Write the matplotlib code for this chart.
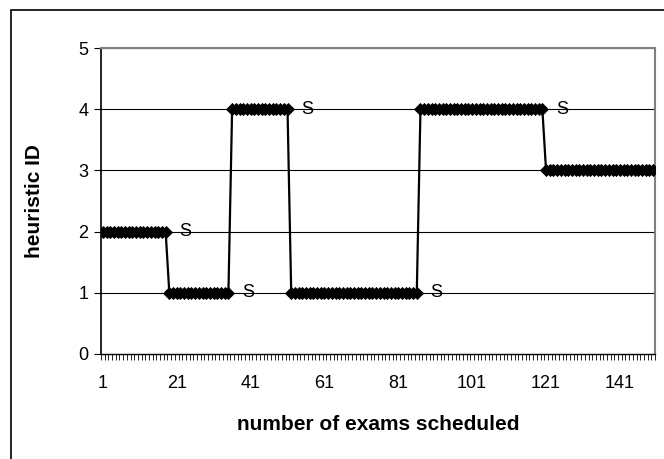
import numpy as np
import matplotlib
matplotlib.use('Agg')
from matplotlib import pyplot as plt
from matplotlib.patches import Rectangle

# heuristic chosen, as runs of constant value
run_values = [2, 1, 4, 1, 4, 3]
run_lengths = [18, 17, 16, 35, 34, 30]
tick_labels = ['1', '21', '41', '61', '81', '101', '121', '141']
switch_label = 'S'

heuristic = np.repeat(run_values, run_lengths)
exams = np.arange(1, len(heuristic) + 1)
switch_points = np.cumsum(run_lengths)[:-1]

plt.rcParams['font.family'] = ['Liberation Sans', 'DejaVu Sans']

fig = plt.figure(figsize=(6.64, 4.59), dpi=100)
ax = fig.add_axes([101 / 664, 1 - 354 / 459, 554 / 664, 306 / 459])

# outer chart border (cut off at right and bottom in the original)
fig.patches.append(Rectangle((10.5 / 664, -0.05), 1.0, 1 - 10 / 459 + 0.05,
                             transform=fig.transFigure, fill=False,
                             edgecolor='black', linewidth=1.2))

for y in [1, 2, 3, 4, 5]:
    ax.axhline(y, color='black', linewidth=0.8, zorder=1)

ax.plot(exams, heuristic, color='black', linewidth=1.6,
        marker='D', markersize=6, markeredgewidth=0.6, zorder=3)

for sp in switch_points:
    ax.annotate(switch_label, (exams[sp - 1], heuristic[sp - 1]),
                xytext=(10, 0), textcoords='offset points',
                ha='left', va='center', fontsize=13)

ax.set_xlim(0.5, len(heuristic) + 0.5)
ax.set_ylim(0, 5)
ax.set_yticks([0, 1, 2, 3, 4, 5])
ax.set_xticks([int(t) for t in tick_labels])
ax.set_xticklabels(tick_labels)
ax.set_xticks(np.arange(0.5, len(heuristic) + 1, 1), minor=True)
ax.tick_params(axis='x', which='major', length=0, pad=15, labelsize=13)
ax.tick_params(axis='x', which='minor', length=4, width=0.6, direction='out')
ax.tick_params(axis='y', which='major', length=5, width=0.8, pad=4, labelsize=13)

ax.spines['top'].set_color('#808080')
ax.spines['right'].set_color('#808080')
ax.spines['top'].set_linewidth(1.5)
ax.spines['right'].set_linewidth(1.5)
ax.spines['left'].set_linewidth(1.2)
ax.spines['bottom'].set_linewidth(1.0)

fig.text(378 / 664, 1 - 424 / 459, 'number of exams scheduled',
         ha='center', va='center', fontsize=15, fontweight='bold')
fig.text(35 / 664, 1 - 201 / 459, 'heuristic ID', rotation=90,
         ha='center', va='center', fontsize=15, fontweight='bold')

fig.savefig('out.png', dpi=100)
